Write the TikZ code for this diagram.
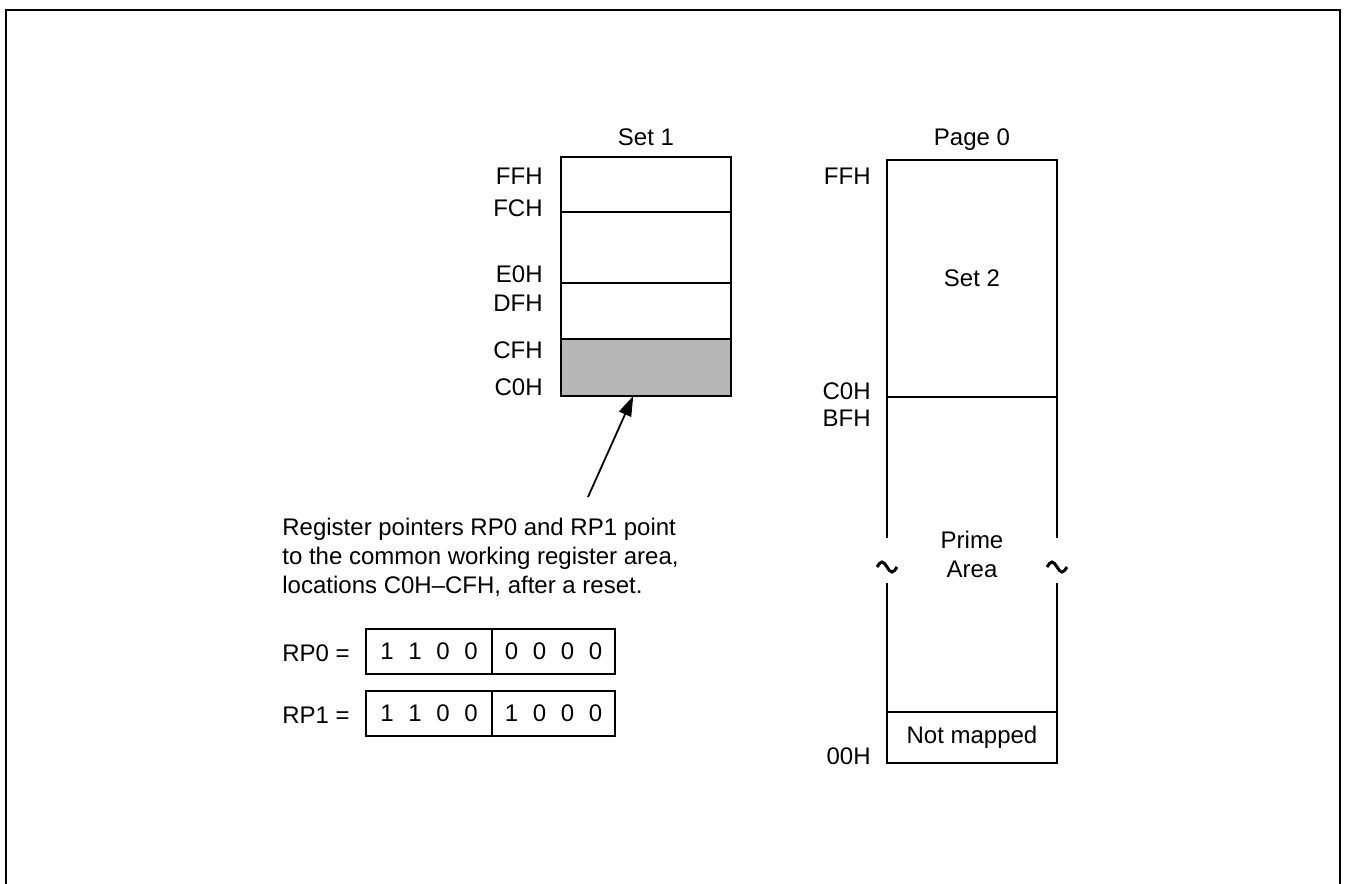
\documentclass[tikz,border=0pt]{standalone}
\usepackage{fontspec}
\setmainfont{Liberation Sans}
\usetikzlibrary{arrows.meta,positioning}
\definecolor{wrgray}{RGB}{182,182,182}
\newcommand{\regbits}[4]{\makebox[14pt]{#1}\makebox[14pt]{#2}\makebox[14pt]{#3}\makebox[14pt]{#4}}

\begin{document}
\begin{tikzpicture}[x=0.5pt,y=-0.5pt,
  font=\fontsize{12}{14.5}\selectfont,
  blk/.style={draw,line width=1pt,minimum width=85pt,inner sep=0pt,outer sep=0pt,anchor=north west},
  addr/.style={anchor=east,inner sep=0pt},
  cell/.style={draw,line width=1pt,minimum height=22.5pt,inner sep=0pt,outer sep=0pt,anchor=west},
  brk/.style={line width=1.5pt},
  ptr/.style={-{Triangle[length=10pt,width=6.5pt]},line width=0.9pt}]
\useasboundingbox (0,0) rectangle (1345,884);
\draw[line width=1pt] (6,884) -- (6,10) -- (1340,10) -- (1340,884);

% set 1
\node[blk,minimum height=27.5pt] (s1top) at (561,157) {};
\node[blk,minimum height=35.5pt,below=0pt of s1top] (s1mid) {};
\node[blk,minimum height=28pt,below=0pt of s1mid] (s1low) {};
\node[blk,minimum height=28.5pt,fill=wrgray,below=0pt of s1low] (wr) {};
\draw[line width=1.4pt] (wr.north west) -- (wr.north east);
\node[anchor=base,inner sep=0pt] (set1) at (s1top.north |- 0,145) {Set 1};
\foreach \a/\y in {FFH/176,FCH/208,E0H/274,DFH/303,CFH/350,C0H/387}
  \node[addr] (s1-\a) at (543,\y) {\a};

% page 0
\node[blk,minimum height=118.5pt] (set2) at (887,160) {Set 2};
\node[blk,draw=none,minimum height=157.5pt,align=center,below=0pt of set2] (prime) {Prime\\Area};
\node[blk,minimum height=25.5pt,below=0pt of prime] (nomap) {Not mapped};
\foreach \s in {west,east}{
  \draw[line width=1pt] (prime.north \s) -- (prime.north \s |- 0,538);
  \draw[line width=1pt] (prime.south \s |- 0,583) -- (prime.south \s);
  \draw[brk] (prime.\s |- 0,566) ++(-10,1) sin ++(5,-5) cos ++(5,5) sin ++(5,5) cos ++(5,-5);
}
\node[anchor=base,inner sep=0pt] (page0) at (set2.north |- 0,145) {Page 0};
\foreach \a/\y in {FFH/176,C0H/391,BFH/418,00H/756}
  \node[addr] (p0-\a) at (871,\y) {\a};

% pointer note
\node[anchor=north west,inner sep=0pt,align=left] (note) at (282,518)
  {Register pointers RP0 and RP1 point\\to the common working register area,\\locations C0H--CFH, after a reset.};
\coordinate (tail) at (588,497);
\draw[ptr] (tail) -- (wr);

% register values
\node[anchor=west,inner sep=0pt] (rp0) at (282,653) {RP0 =};
\node[cell,minimum width=63pt] (rp0hi) at (366,651.5) {\regbits 1100};
\node[cell,minimum width=61.5pt,right=0pt of rp0hi] (rp0lo) {\regbits 0000};
\node[anchor=west,inner sep=0pt] (rp1) at (282,715) {RP1 =};
\node[cell,minimum width=63pt] (rp1hi) at (366,713) {\regbits 1100};
\node[cell,minimum width=61.5pt,right=0pt of rp1hi] (rp1lo) {\regbits 1000};
\end{tikzpicture}
\end{document}
